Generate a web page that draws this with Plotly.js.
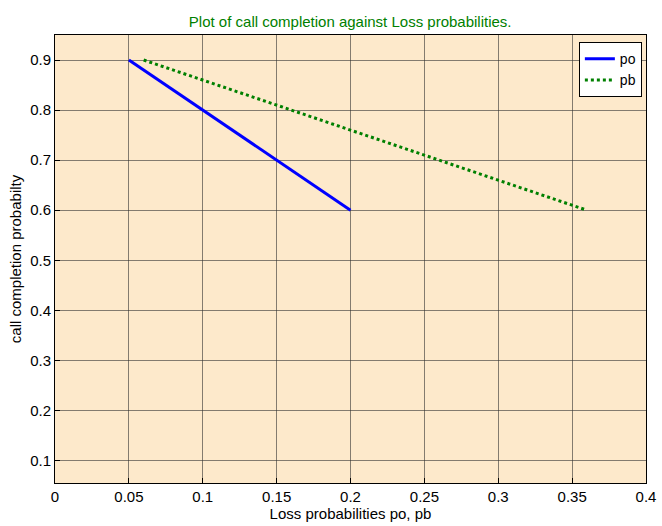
<!DOCTYPE html>
<html>
<head>
<meta charset="utf-8">
<script src="https://cdn.plot.ly/plotly-3.0.1.min.js"></script>
<style>html,body{margin:0;padding:0;background:#fff;}#chart{width:662px;height:526px;}</style>
</head>
<body>
<div id="chart"></div>
<script>
const poX = [0.05, 0.10, 0.15, 0.20];
const poY = [0.9, 0.8, 0.7, 0.6];
const pbX = [0.06, 0.16, 0.26, 0.36];
const pbY = [0.9, 0.8, 0.7, 0.6];
const xTicks = [0, 0.05, 0.1, 0.15, 0.2, 0.25, 0.3, 0.35, 0.4];
const xTickText = ['0', '0.05', '0.1', '0.15', '0.2', '0.25', '0.3', '0.35', '0.4'];
const yTicks = [0.1, 0.2, 0.3, 0.4, 0.5, 0.6, 0.7, 0.8, 0.9];
const yTickText = ['0.1', '0.2', '0.3', '0.4', '0.5', '0.6', '0.7', '0.8', '0.9'];

const font = 'Liberation Sans, Arial, Helvetica, sans-serif';
const fs = 15;
const traces = [
  {x: poX, y: poY, name: 'po', mode: 'lines', line: {color: '#0000ff', width: 3}},
  {x: pbX, y: pbY, name: 'pb', mode: 'lines', line: {color: '#008000', width: 3, dash: 'dot'}}
];
const axisCommon = {
  showline: true, linecolor: '#000', linewidth: 1, mirror: true,
  showgrid: true, gridcolor: 'rgba(50,50,50,0.6)', gridwidth: 1,
  zeroline: false, ticks: 'inside', ticklen: 5, tickcolor: '#000',
  tickfont: {family: font, size: fs, color: '#000'}
};
const layout = {
  width: 662, height: 526,
  margin: {l: 55, r: 16, t: 35, b: 43},
  paper_bgcolor: '#ffffff',
  plot_bgcolor: '#fde9cb',
  font: {family: font, size: fs, color: '#000'},
  title: {text: 'Plot of call completion against Loss probabilities.', font: {family: font, size: fs, color: '#008000'}, x: 0.529, xanchor: 'center', y: 0.958, yanchor: 'middle'},
  xaxis: Object.assign({}, axisCommon, {
    range: [0, 0.4], tickvals: xTicks, ticktext: xTickText,
    title: {text: 'Loss probabilities po, pb', font: {family: font, size: fs, color: '#000'}, standoff: 2}
  }),
  yaxis: Object.assign({}, axisCommon, {
    range: [0.055, 0.95], tickvals: yTicks, ticktext: yTickText,
    title: {text: 'call completion probabilty', font: {family: font, size: fs, color: '#000'}, standoff: 4}
  }),
  showlegend: true,
  legend: {x: 0.993, xanchor: 'right', y: 0.984, yanchor: 'top', bgcolor: '#ffffff', bordercolor: '#000', borderwidth: 1,
    font: {family: font, size: 14, color: '#000'}, tracegroupgap: 0, itemwidth: 30}
};
Plotly.newPlot('chart', traces, layout, {displayModeBar: false, staticPlot: true});
</script>
</body>
</html>
